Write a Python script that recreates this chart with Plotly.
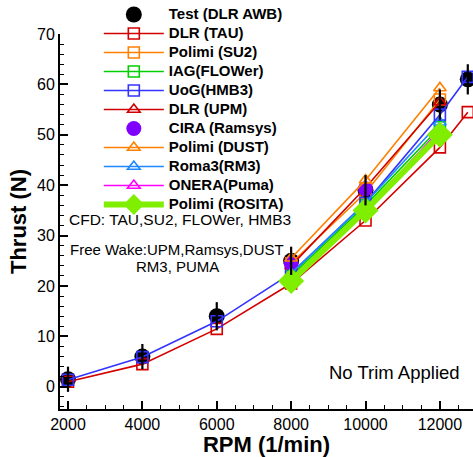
import plotly.graph_objects as go

rpm_full = [2000, 4000, 6000, 8000, 10000, 12000, 12750]
rpm_hi = [8000, 10000, 12000]

test_thrust = [1.5, 6.0, 14.0, 25.0, 39.0, 56.0, 61.0]
test_err = [2.5, 2.5, 2.8, 2.8, 3.0, 3.0, 3.0]
tau_thrust = [1.0, 4.5, 11.5, 20.5, 33.0, 47.5, 54.5]
su2_thrust = [24.5, 38.5, 57.0]
flower_thrust = [22.0, 36.0, 51.5]
hmb3_thrust = [1.4, 5.9, 13.0, 22.5, 36.5, 54.0, 61.5]
upm_thrust = [24.0, 39.5, 56.5]
ramsys_rpm = [8000, 10000]
ramsys_thrust = [24.5, 39.3]
dust_thrust = [25.5, 41.0, 59.3]
rm3_thrust = [22.5, 36.5, 52.5]
puma_thrust = [21.5, 35.0, 51.0]
rosita_thrust = [21.0, 35.0, 50.0]

x_ticks = [2000, 4000, 6000, 8000, 10000, 12000]
y_ticks = [0, 10, 20, 30, 40, 50, 60, 70]


def lbl(s):
    return '<span style="font-size:15px"><b>' + s + '</b></span>'


fig = go.Figure()

fig.add_trace(go.Scatter(x=rpm_full, y=test_thrust, mode="markers", name=lbl("Test (DLR AWB)"),
                         marker=dict(symbol="circle", size=16, color="black")))


def line_trace(x, y, name, color, symbol, size=11, width=1.6, lw=1.6):
    return go.Scatter(x=x, y=y, mode="lines+markers", name=lbl(name),
                      line=dict(color=color, width=width),
                      marker=dict(symbol=symbol, size=size, color=color,
                                  line=dict(color=color, width=lw)))


fig.add_trace(line_trace(rpm_full, tau_thrust, "DLR (TAU)", "#d40000", "square-open"))
fig.add_trace(line_trace(rpm_hi, su2_thrust, "Polimi (SU2)", "#ff8000", "square-open"))
fig.add_trace(line_trace(rpm_hi, flower_thrust, "IAG(FLOWer)", "#00d000", "square-open"))
fig.add_trace(line_trace(rpm_full, hmb3_thrust, "UoG(HMB3)", "#3333ff", "square-open"))
fig.add_trace(line_trace(rpm_hi, upm_thrust, "DLR (UPM)", "#d00000", "triangle-up-open"))
fig.add_trace(go.Scatter(x=ramsys_rpm, y=ramsys_thrust, mode="markers", name=lbl("CIRA (Ramsys)"),
                         marker=dict(symbol="circle", size=15, color="#8000ff")))
fig.add_trace(line_trace(rpm_hi, dust_thrust, "Polimi (DUST)", "#ff8000", "triangle-up-open"))
fig.add_trace(line_trace(rpm_hi, rm3_thrust, "Roma3(RM3)", "#1e88ff", "triangle-up-open"))
fig.add_trace(line_trace(rpm_hi, puma_thrust, "ONERA(Puma)", "#ff00ff", "triangle-up-open"))
fig.add_trace(go.Scatter(x=rpm_hi, y=rosita_thrust, mode="lines+markers", name=lbl("Polimi (ROSITA)"),
                         line=dict(color="#80ee00", width=6),
                         marker=dict(symbol="diamond", size=20, color="#80ee00")))

fig.add_trace(go.Scatter(x=rpm_full, y=test_thrust, mode="markers", showlegend=False,
                         marker=dict(size=1, color="rgba(0,0,0,0)"),
                         error_y=dict(type="data", array=test_err, color="black",
                                      thickness=2.2, width=0)))

fig.add_annotation(text="CFD: TAU,SU2, FLOWer, HMB3", xref="paper", yref="paper",
                   x=0.017, y=0.505, xanchor="left", yanchor="middle", showarrow=False,
                   font=dict(size=15.5, color="black"))
fig.add_annotation(text="Free Wake:UPM,Ramsys,DUST", xref="paper", yref="paper",
                   x=0.2845, y=0.426, xanchor="center", yanchor="middle", showarrow=False,
                   font=dict(size=15, color="black"))
fig.add_annotation(text="RM3, PUMA", xref="paper", yref="paper",
                   x=0.2845, y=0.381, xanchor="center", yanchor="middle", showarrow=False,
                   font=dict(size=15, color="black"))
fig.add_annotation(text="No Trim Applied", xref="paper", yref="paper",
                   x=0.973, y=0.098, xanchor="right", yanchor="middle", showarrow=False,
                   font=dict(size=18.5, color="black"))

fig.update_layout(
    width=473, height=457,
    margin=dict(l=60, r=0, t=31, b=48),
    paper_bgcolor="white", plot_bgcolor="white",
    font=dict(family="Liberation Sans, Arial, sans-serif", color="black"),
    showlegend=True,
    legend=dict(x=0.094, y=1.092, xanchor="left", yanchor="top",
                bgcolor="rgba(0,0,0,0)", itemwidth=60, maxheight=420,
                font=dict(size=11, color="black", family="Liberation Sans, Arial, sans-serif"),
                tracegroupgap=0, itemsizing="trace"),
    xaxis=dict(range=[1785, 12890], tickvals=x_ticks, ticktext=[str(v) for v in x_ticks],
               ticks="inside", ticklen=8, tickwidth=2, tickcolor="black",
               minor=dict(dtick=500, ticks="inside", ticklen=4, tickwidth=1.3, tickcolor="black"),
               showline=True, linecolor="black", linewidth=2, showgrid=False, zeroline=False,
               tickfont=dict(size=16),
               title=dict(text="<b>RPM (1/min)</b>", font=dict(size=22), standoff=2)),
    yaxis=dict(range=[-4.4, 70], tickvals=y_ticks, ticktext=[str(v) for v in y_ticks],
               ticks="inside", ticklen=8, tickwidth=2, tickcolor="black",
               minor=dict(dtick=2, ticks="inside", ticklen=4, tickwidth=1.3, tickcolor="black"),
               showline=True, linecolor="black", linewidth=2, showgrid=False, zeroline=False,
               tickfont=dict(size=16),
               title=dict(text="<b>Thrust (N)</b>", font=dict(size=22), standoff=4)),
)

fig.write_html("out.html")
